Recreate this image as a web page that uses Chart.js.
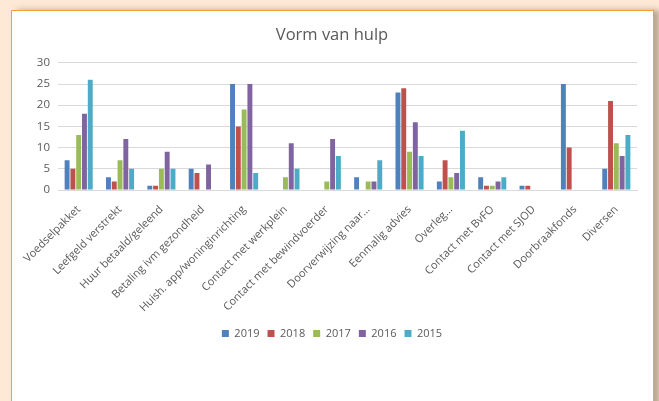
<!DOCTYPE html>
<html>
<head>
<meta charset="utf-8">
<script src="https://cdn.jsdelivr.net/npm/chart.js@4"></script>
<style>
  html, body { margin: 0; padding: 0; }
  body { width: 659px; height: 401px; background: #fde9d5; position: relative; overflow: hidden; }
  #panel {
    position: absolute; left: 11px; top: 10px; width: 641px; height: 420px;
    background: #fff; border: 1.5px solid #f7a035;
    box-shadow: 6px 0 6px rgba(120, 100, 80, 0.5);
  }
  #wrap { position: absolute; left: 0; top: 0; width: 659px; height: 401px; }
</style>
</head>
<body>
<div id="panel"></div>
<div id="wrap"><canvas id="myChart" width="659" height="401"></canvas></div>
<script>
// categories and values
var categories = [
	"Voedselpakket", "Leefgeld verstrekt", "Huur betaald/geleend", "Betaling ivm gezondheid",
	"Huish. app/woninginrichting", "Contact met werkplein", "Contact met bewindvoerder",
	"Doorverwijzing naar\u2026", "Eenmalig advies", "Overleg\u2026", "Contact met BvFO",
	"Contact met SJOD", "Doorbraakfonds", "Diversen"
];
var years = ["2019", "2018", "2017", "2016", "2015"];
var colors = ["#4f81bd", "#c0504d", "#9bbb59", "#8064a2", "#4bacc6"];

var v2019 = [7, 3, 1, 5, 25, 0, 0, 3, 23, 2, 3, 1, 25, 5];
var v2018 = [5, 2, 1, 4, 15, 0, 0, 0, 24, 7, 1, 1, 10, 21];
var v2017 = [13, 7, 5, 0, 19, 3, 2, 2, 9, 3, 1, 0, 0, 11];
var v2016 = [18, 12, 9, 6, 25, 11, 12, 2, 16, 4, 2, 0, 0, 8];
var v2015 = [26, 5, 5, 0, 4, 5, 8, 7, 8, 14, 3, 0, 0, 13];
var series = [v2019, v2018, v2017, v2016, v2015];

var yTicks = [0, 5, 10, 15, 20, 25, 30];

var font = "'Open Sans', sans-serif";
var grey = "#595959";

var ctx = document.getElementById("myChart").getContext("2d");
var chart = new Chart(ctx, {
	type: "bar",
	data: {
		labels: categories,
		datasets: series.map(function(s, i) {
			return {
				label: years[i],
				data: s,
				backgroundColor: colors[i],
				categoryPercentage: 0.7,
				barPercentage: 0.85
			};
		})
	},
	options: {
		responsive: false,
		animation: false,
		layout: { padding: { left: 27, right: 22, top: 10, bottom: 52 } },
		plugins: {
			title: {
				display: true,
				text: "Vorm van hulp",
				color: grey,
				font: { family: font, size: 16.5, weight: "normal" },
				padding: { top: 15, bottom: 18 }
			},
			legend: {
				position: "bottom",
				labels: {
					color: grey,
					font: { family: font, size: 11 },
					boxWidth: 7,
					boxHeight: 7,
					padding: 8
				}
			},
			tooltip: { enabled: false }
		},
		scales: {
			x: {
				afterFit: function(axis) { axis.height = 130; },
				grid: { display: false },
				border: { color: "#d9d9d9" },
				ticks: {
					color: grey,
					font: { family: font, size: 11 },
					autoSkip: false,
					maxRotation: 45,
					minRotation: 45,
					padding: 5
				}
			},
			y: {
				min: 0,
				max: 30,
				afterFit: function(axis) { axis.width = 31; },
				afterBuildTicks: function(axis) {
					axis.ticks = yTicks.map(function(v) { return { value: v }; });
				},
				grid: { color: "#d9d9d9", drawTicks: false },
				border: { display: false },
				ticks: {
					color: grey,
					font: { family: font, size: 11.5 },
					padding: 8
				}
			}
		}
	}
});
</script>
</body>
</html>
